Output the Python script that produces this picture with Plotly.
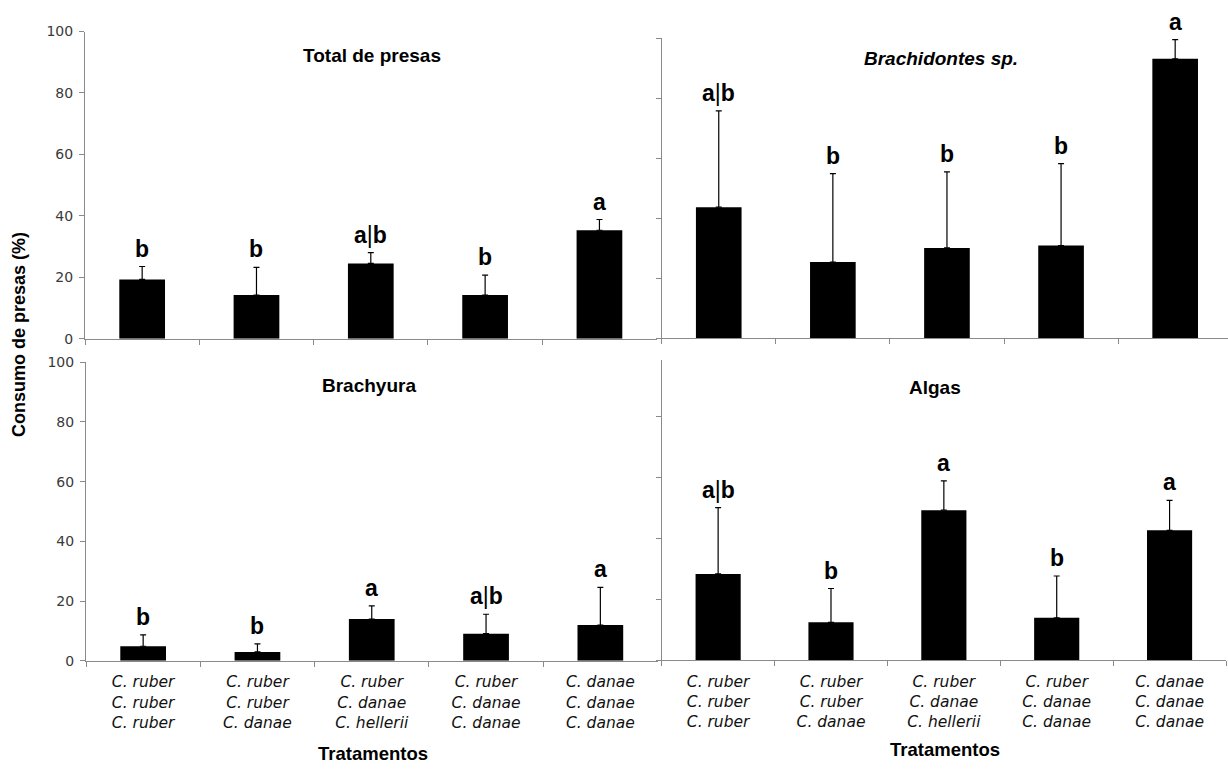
import plotly.graph_objects as go

W, H = 1228, 771

treatments = [
    "C. ruber<br>C. ruber<br>C. ruber",
    "C. ruber<br>C. ruber<br>C. danae",
    "C. ruber<br>C. danae<br>C. hellerii",
    "C. ruber<br>C. danae<br>C. danae",
    "C. danae<br>C. danae<br>C. danae",
]

panel_titles = ["<b>Total de presas</b>", "<b><i>Brachidontes sp.</i></b>", "<b>Brachyura</b>", "<b>Algas</b>"]

total_mean = [19.3, 14.2, 24.5, 14.2, 35.3]
total_err = [4.2, 9.0, 3.5, 6.5, 3.5]
total_letters = ["b", "b", "a|b", "b", "a"]

brachid_mean = [43.7, 25.4, 30.1, 30.9, 93.2]
brachid_err = [32.1, 29.5, 25.4, 27.3, 6.4]
brachid_letters = ["a|b", "b", "b", "b", "a"]

brachyura_mean = [4.9, 3.0, 14.0, 9.1, 12.0]
brachyura_err = [3.8, 2.7, 4.4, 6.5, 12.6]
brachyura_letters = ["b", "b", "a", "a|b", "a"]

algas_mean = [28.3, 12.4, 49.2, 13.9, 42.6]
algas_err = [21.7, 11.1, 9.6, 13.7, 9.8]
algas_letters = ["a|b", "b", "a", "b", "a"]

y_ticks = [0, 20, 40, 60, 80, 100]

def px(x):
    return x / W

def py(y):
    return 1 - y / H

AX = "#8a8a8a"

panels = [
    dict(x0=85, x1=656.6, yb=337.7, yt=24, ymax=100, xr=4.5),
    dict(x0=661.7, x1=1228, yb=337.2, yt=31, ymax=100, xr=4.463),
    dict(x0=86, x1=657.5, yb=666.7, yt=361.7, ymax=100, xr=4.5),
    dict(x0=661.7, x1=1226, yb=666.0, yt=359.3, ymax=98.5, xr=4.5),
]

data_sets = [
    (total_mean, total_err, total_letters),
    (brachid_mean, brachid_err, brachid_letters),
    (brachyura_mean, brachyura_err, brachyura_letters),
    (algas_mean, algas_err, algas_letters),
]

fig = go.Figure()
annotations = []
layout = {}

for i, (p, (m, e, letters)) in enumerate(zip(panels, data_sets)):
    n = "" if i == 0 else str(i + 1)
    xa, ya = "x" + n, "y" + n
    fig.add_trace(go.Bar(
        x=treatments, y=m, xaxis=xa, yaxis=ya,
        marker=dict(color="black", line=dict(width=0)),
        width=0.4,
        error_y=dict(type="data", symmetric=False, array=e, arrayminus=[0] * len(e),
                     color="black", thickness=1.2, width=3),
        showlegend=False, hoverinfo="skip",
    ))
    bottom = i >= 2
    left = i % 2 == 0
    layout["xaxis" + n] = dict(
        domain=[px(p["x0"]), px(p["x1"])], anchor=ya,
        range=[-0.5, p["xr"]], type="category",
        showline=True, linecolor=AX, linewidth=1,
        ticks="outside", ticklen=5, tickcolor=AX, tickson="boundaries",
        showticklabels=bottom, showgrid=False, zeroline=False,
        ticklabelstandoff=7,
        tickfont=dict(family="DejaVu Sans", size=15.5, color="#111111", style="italic"),
        fixedrange=True,
    )
    layout["yaxis" + n] = dict(
        domain=[py(p["yb"]), py(p["yt"])], anchor=xa,
        range=[0, p["ymax"]], tickvals=[t for t in y_ticks if t <= p["ymax"]],
        showline=True, linecolor=AX, linewidth=1,
        ticks="outside", ticklen=5, tickcolor=AX,
        showticklabels=left, showgrid=False, zeroline=False,
        ticklabelstandoff=3,
        tickfont=dict(family="DejaVu Sans", size=14, color="#3a3a3a"),
        fixedrange=True,
    )
    for c, mv, ev, lt in zip(treatments, m, e, letters):
        if lt == "a|b":
            txt = "<b>a</b>|<b>b</b>"
        else:
            txt = "<b>" + lt + "</b>"
        annotations.append(dict(
            x=c, y=mv + ev, xref=xa, yref=ya, text=txt, showarrow=False,
            yanchor="bottom", yshift=3,
            font=dict(family="Liberation Sans", size=23, color="black"),
        ))

title_pos = [(372, 48), (941, 52), (369, 386), (935, 388)]
for t, (tx, ty) in zip(panel_titles, title_pos):
    annotations.append(dict(
        x=px(tx), y=py(ty), xref="paper", yref="paper", text=t, showarrow=False,
        xanchor="center", yanchor="middle",
        font=dict(family="Liberation Sans", size=19, color="black"),
    ))

annotations.append(dict(
    x=px(19), y=py(334), xref="paper", yref="paper", text="<b>Consumo de presas (%)</b>",
    showarrow=False, textangle=-90, xanchor="center", yanchor="middle",
    font=dict(family="Liberation Sans", size=18, color="black"),
))
for tx, ty in [(373, 761), (945, 757)]:
    annotations.append(dict(
        x=px(tx), y=py(ty), xref="paper", yref="paper", text="<b>Tratamentos</b>",
        showarrow=False, xanchor="center", yanchor="middle",
        font=dict(family="Liberation Sans", size=18.5, color="black"),
    ))

fig.update_layout(
    width=W, height=H,
    margin=dict(l=0, r=0, t=0, b=0),
    paper_bgcolor="white", plot_bgcolor="white",
    annotations=annotations,
    bargap=0.6,
    **layout,
)

fig.write_html("out.html", config={"displayModeBar": False})
